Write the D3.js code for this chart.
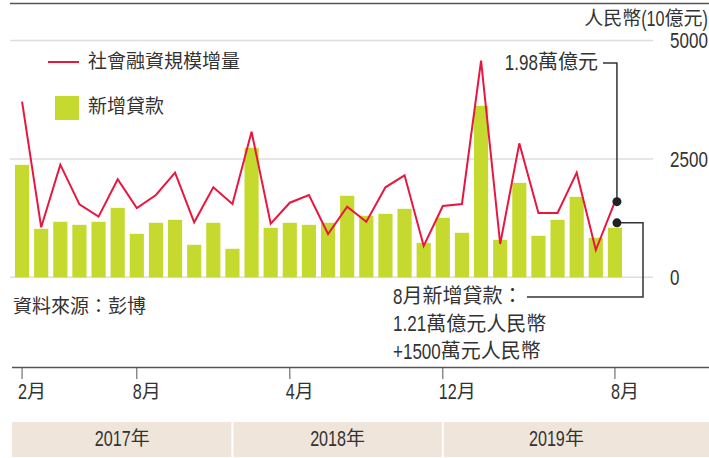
<!DOCTYPE html>
<html>
<head>
<meta charset="utf-8">
<script src="https://cdn.jsdelivr.net/npm/d3@7"></script>
<style>
  body { margin: 0; background: #fff; }
  svg { display: block; }
  text { fill: #333; }
</style>
</head>
<body>
<svg id="chart"></svg>
<script>
const months = [
  "2017-01", "2017-02", "2017-03", "2017-04", "2017-05", "2017-06", "2017-07", "2017-08",
  "2017-09", "2017-10", "2017-11", "2017-12", "2018-01", "2018-02", "2018-03", "2018-04",
  "2018-05", "2018-06", "2018-07", "2018-08", "2018-09", "2018-10", "2018-11", "2018-12",
  "2019-01", "2019-02", "2019-03", "2019-04", "2019-05", "2019-06", "2019-07", "2019-08"
];
// 新增貸款 (10億元)
const loans = [2375, 1024, 1172, 1108, 1172, 1467, 918, 1151, 1214, 686, 1151, 602,
  2734, 1045, 1151, 1108, 1151, 1721, 1298, 1340, 1446, 728, 1256, 940,
  3621, 792, 1995, 876, 1214, 1700, 834, 1045];
// 社會融資規模增量 (10億元)
const tsf = [3708, 1056, 2378, 1541, 1280, 2069, 1463, 1738, 2209, 1161, 1900, 1548,
  3074, 1132, 1575, 1738, 914, 1491, 1174, 1900, 2154, 661, 1506, 1548,
  4574, 703, 2829, 1358, 1358, 2209, 576, 1597];
const yTicks = [0, 2500, 5000];
const tickMonths = ["2017-01", "2017-07", "2018-03", "2018-11", "2019-08"];
const tickLabels = ["2月", "8月", "4月", "12月", "8月"];
const years = ["2017年", "2018年", "2019年"];
const yearDividers = ["2017-12", "2018-11"];
const seriesNames = ["社會融資規模增量", "新增貸款"];

const W = 709, H = 458;
const barColor = "#c6d92e", lineColor = "#e8173f";
const narrow = 0.76, latinBoost = 1.12;

const svg = d3.select("#chart").attr("width", W).attr("height", H);

// latin runs in a squeezed sans, CJK runs in Noto CJK
function label(parent, str, x, y, size, anchor = "start") {
  const g = parent.append("g");
  const runs = str.match(/[\x00-\x7F]+|[^\x00-\x7F]+/g);
  let cur = 0;
  runs.forEach(r => {
    const ascii = /^[\x00-\x7F]/.test(r);
    const s = ascii ? narrow : 1;
    const t = g.append("text")
      .attr("y", y)
      .attr("dominant-baseline", "middle")
      .style("font-size", (ascii ? size * latinBoost : size) + "px")
      .style("font-family", ascii ? "'Liberation Sans', Arial, sans-serif" : "'Noto Sans CJK TC', sans-serif")
      .text(r);
    const w = t.node().getComputedTextLength() * s;
    t.attr("transform", `translate(${cur},0) scale(${s},1)`);
    cur += w;
  });
  const off = anchor === "end" ? -cur : anchor === "middle" ? -cur / 2 : 0;
  g.attr("transform", `translate(${x + off},0)`);
  return g;
}

const x = d3.scaleBand()
  .domain(months)
  .range([12.5, 624.5])
  .paddingInner(0.26)
  .paddingOuter(0.13);
const cx = m => x(m) + x.bandwidth() / 2;

const y = d3.scaleLinear()
  .domain([0, 5000])
  .range([277.3, 40.5]);

// top rule
svg.append("line")
  .attr("x1", 10).attr("x2", W)
  .attr("y1", 3.5).attr("y2", 3.5)
  .attr("stroke", "#555").attr("stroke-width", 1.5);

// gridlines
svg.append("g")
  .selectAll("line")
  .data(yTicks)
  .join("line")
    .attr("x1", 10).attr("x2", 653)
    .attr("y1", d => y(d)).attr("y2", d => y(d))
    .attr("stroke", "#dedede").attr("stroke-width", 1.5);

// y labels
yTicks.forEach(d => label(svg, String(d), 670, y(d) + 2, 20));
label(svg, "人民幣(10億元)", 708, 20, 19, "end");

// bars
svg.append("g")
  .selectAll("rect")
  .data(months)
  .join("rect")
    .attr("x", d => x(d))
    .attr("y", (d, i) => y(loans[i]))
    .attr("width", x.bandwidth())
    .attr("height", (d, i) => y(0) - y(loans[i]))
    .attr("fill", barColor);

// line
const line = d3.line()
  .x((d, i) => cx(months[i]))
  .y(d => y(d));

svg.append("path")
  .datum(tsf)
  .attr("d", line)
  .attr("fill", "none")
  .attr("stroke", lineColor)
  .attr("stroke-width", 2);

// legend
svg.append("line")
  .attr("x1", 48).attr("x2", 79)
  .attr("y1", 62).attr("y2", 62)
  .attr("stroke", lineColor).attr("stroke-width", 2);
svg.append("rect")
  .attr("x", 55).attr("y", 96)
  .attr("width", 24).attr("height", 24)
  .attr("fill", barColor);
seriesNames.forEach((d, i) => label(svg, d, 88, 63 + i * 45, 19));

// source
label(svg, "資料來源：彭博", 13, 308, 19);

// annotations
const last = months[months.length - 1];
const lx = cx(last) + 2;
const tsfY = y(tsf[tsf.length - 1]);
const loanY = y(loans[loans.length - 1]) - 5;

svg.append("path")
  .attr("d", `M603,63H${lx}V${tsfY}`)
  .attr("fill", "none").attr("stroke", "#333").attr("stroke-width", 1.5);
svg.append("path")
  .attr("d", `M${lx},${loanY}H643V297H527`)
  .attr("fill", "none").attr("stroke", "#333").attr("stroke-width", 1.5);

svg.selectAll("circle.dot")
  .data([tsfY, loanY])
  .join("circle")
    .attr("cx", lx)
    .attr("cy", d => d)
    .attr("r", 4.5)
    .attr("fill", "#222");

label(svg, "1.98萬億元", 598, 64, 20, "end");
["8月新增貸款：", "1.21萬億元人民幣", "+1500萬元人民幣"]
  .forEach((d, i) => label(svg, d, 393, 298 + i * 27.5, 20));

// bottom axis
svg.append("line")
  .attr("x1", 12).attr("x2", W)
  .attr("y1", 367.5).attr("y2", 367.5)
  .attr("stroke", "#555").attr("stroke-width", 1.5);
svg.append("g")
  .selectAll("line")
  .data(tickMonths)
  .join("line")
    .attr("x1", d => cx(d)).attr("x2", d => cx(d))
    .attr("y1", 367.5).attr("y2", 379)
    .attr("stroke", "#555").attr("stroke-width", 1);
tickMonths.forEach((d, i) => label(svg, tickLabels[i], cx(d) - 4, 393, 19));

// year band
const edges = [12, ...yearDividers.map(cx), W];
const labelRight = [edges[1], edges[2], 670];
svg.append("g")
  .selectAll("rect")
  .data(years)
  .join("rect")
    .attr("x", (d, i) => edges[i])
    .attr("y", 422)
    .attr("width", (d, i) => edges[i + 1] - edges[i])
    .attr("height", 35)
    .attr("fill", "#f0e5da");
svg.append("g")
  .selectAll("line")
  .data(yearDividers)
  .join("line")
    .attr("x1", d => cx(d)).attr("x2", d => cx(d))
    .attr("y1", 422).attr("y2", 457)
    .attr("stroke", "#fff").attr("stroke-width", 2);
years.forEach((d, i) => label(svg, d, (edges[i] + labelRight[i]) / 2, 440, 19, "middle"));
</script>
</body>
</html>
